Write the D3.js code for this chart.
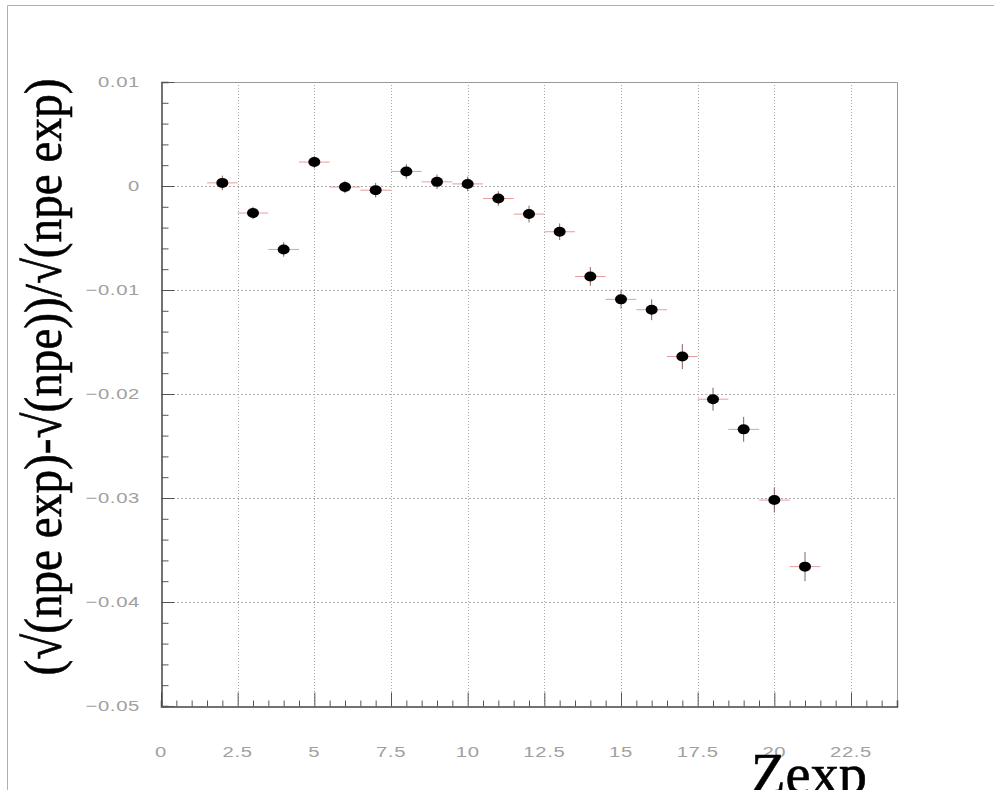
<!DOCTYPE html>
<html>
<head>
<meta charset="utf-8">
<script src="https://cdn.jsdelivr.net/npm/d3@7"></script>
<style>
  body { margin: 0; background: #fff; }
  svg { display: block; }
</style>
</head>
<body>
<div id="chart"></div>
<script>
const w = 994;
const h = 790;

// data
const zexp = [2, 3, 4, 5, 6, 7, 8, 9, 10, 11, 12, 13, 14, 15, 16, 17, 18, 19, 20, 21];
const ratio = [0.0003, -0.0026, -0.0061, 0.0023, -0.0001, -0.0004, 0.0014, 0.0004, 0.0002, -0.0012,
    -0.0027, -0.0044, -0.0087, -0.0109, -0.0119, -0.0164, -0.0205, -0.0234, -0.0302, -0.0366];
const ratioErr = [0.0007, 0.0006, 0.0007, 0.0006, 0.0006, 0.0007, 0.0007, 0.0007, 0.0007, 0.0007,
    0.0008, 0.0008, 0.0009, 0.0009, 0.001, 0.0012, 0.0011, 0.0012, 0.0012, 0.0014];
const xErr = 0.5;
const xTicks = [0, 2.5, 5, 7.5, 10, 12.5, 15, 17.5, 20, 22.5];
const yTicks = [0.01, 0, -0.01, -0.02, -0.03, -0.04, -0.05];

const frameL = 161, frameR = 897, frameT = 82, frameB = 706;

const svg = d3.select("#chart")
    .append("svg")
    .attr("width", w)
    .attr("height", h);

// outer pad border
svg.append("path")
    .attr("d", "M7.5,790 L7.5,5.5 L994,5.5")
    .attr("fill", "none")
    .attr("stroke", "#b0b0b0")
    .attr("stroke-width", 1);

const x = d3.scaleLinear().domain([0, 24]).range([frameL, frameR]);
const y = d3.scaleLinear().domain([-0.05, 0.01]).range([frameB, frameT]);

// grid
svg.append("g")
    .selectAll("line")
    .data(xTicks.filter(d => d > 0))
    .enter()
    .append("line")
    .attr("x1", d => Math.round(x(d)) + 0.5)
    .attr("x2", d => Math.round(x(d)) + 0.5)
    .attr("y1", frameT)
    .attr("y2", frameB)
    .attr("stroke", "#aaa")
    .attr("stroke-dasharray", "1,2");

svg.append("g")
    .selectAll("line")
    .data(yTicks.filter(d => d > -0.05 && d < 0.01))
    .enter()
    .append("line")
    .attr("x1", frameL)
    .attr("x2", frameR)
    .attr("y1", d => Math.round(y(d)) + 0.5)
    .attr("y2", d => Math.round(y(d)) + 0.5)
    .attr("stroke", "#aaa")
    .attr("stroke-dasharray", "2,2");

// frame: top and right light
svg.append("path")
    .attr("d", "M" + frameL + "," + (frameT + 0.5) + " L" + (frameR + 0.5) + "," + (frameT + 0.5) + " L" + (frameR + 0.5) + "," + frameB)
    .attr("fill", "none")
    .attr("stroke", "#999")
    .attr("stroke-width", 1);

// axes with inner ticks
const xAxis = d3.axisTop(x)
    .tickValues(d3.range(0, 24.01, 0.5))
    .tickSize(6)
    .tickFormat("");
const gx = svg.append("g")
    .attr("transform", "translate(0," + (frameB + 0.5) + ")")
    .call(xAxis);
gx.selectAll(".tick line")
    .attr("y2", d => (Math.abs(d / 2.5 - Math.round(d / 2.5)) < 1e-6) ? -14 : -6);

const yAxis = d3.axisRight(y)
    .tickValues(d3.range(-0.05, 0.01001, 0.002))
    .tickSize(7)
    .tickFormat("");
const gy = svg.append("g")
    .attr("transform", "translate(" + (frameL + 0.5) + ",0)")
    .call(yAxis);
gy.selectAll(".tick line")
    .attr("x2", d => (Math.abs(d / 0.01 - Math.round(d / 0.01)) < 1e-6) ? 13 : 7);

[gx, gy].forEach(g => {
    g.select(".domain").attr("stroke", "#444").attr("stroke-width", 1.5);
    g.selectAll(".tick line").attr("stroke", "#555");
});

// tick labels (glyphs stretched wide like the original)
svg.append("g")
    .selectAll("text")
    .data(xTicks)
    .enter()
    .append("text")
    .attr("transform", d => "translate(" + x(d) + ",757) scale(1.35,1)")
    .attr("text-anchor", "middle")
    .attr("font-family", "'Liberation Sans', Arial, sans-serif")
    .attr("font-size", 15)
    .attr("letter-spacing", 0.5)
    .attr("fill", "#a0a0a0")
    .text(d => d);

svg.append("g")
    .selectAll("text")
    .data(yTicks)
    .enter()
    .append("text")
    .attr("transform", d => "translate(140," + (y(d) + 5) + ") scale(1.35,1)")
    .attr("text-anchor", "end")
    .attr("font-family", "'Liberation Sans', Arial, sans-serif")
    .attr("font-size", 15)
    .attr("letter-spacing", 0.5)
    .attr("fill", "#a0a0a0")
    .text(d => d === 0 ? "0" : (d < 0 ? "\u2212" + String(-d) : String(d)));

// error bars
const pts = svg.append("g")
    .selectAll("g.pt")
    .data(zexp)
    .enter()
    .append("g")
    .attr("class", "pt");

pts.append("line")
    .attr("x1", d => x(d - xErr))
    .attr("x2", d => x(d + xErr))
    .attr("y1", (d, i) => y(ratio[i]))
    .attr("y2", (d, i) => y(ratio[i]))
    .attr("stroke", "#e07070")
    .attr("stroke-opacity", 0.7)
    .attr("stroke-width", 1);

pts.append("line")
    .attr("x1", d => x(d))
    .attr("x2", d => x(d))
    .attr("y1", (d, i) => y(ratio[i] - ratioErr[i]))
    .attr("y2", (d, i) => y(ratio[i] + ratioErr[i]))
    .attr("stroke", "#8a6060")
    .attr("stroke-width", 1);

pts.append("ellipse")
    .attr("cx", d => x(d))
    .attr("cy", (d, i) => y(ratio[i]))
    .attr("rx", 6)
    .attr("ry", 5)
    .attr("fill", "#000");

// axis titles
svg.append("text")
    .attr("transform", "translate(61,377) rotate(-90)")
    .attr("text-anchor", "middle")
    .attr("font-family", "'Liberation Serif', 'Times New Roman', serif")
    .attr("font-size", 52)
    .attr("textLength", 597)
    .attr("lengthAdjust", "spacingAndGlyphs")
    .attr("fill", "#000")
    .attr("stroke", "#000")
    .attr("stroke-width", 0.6)
    .text("(\u221A(npe exp)-\u221A(npe))/\u221A(npe exp)");

svg.append("text")
    .attr("x", 751)
    .attr("y", 793)
    .attr("font-family", "'Liberation Serif', 'Times New Roman', serif")
    .attr("font-size", 58)
    .attr("textLength", 116)
    .attr("lengthAdjust", "spacingAndGlyphs")
    .attr("fill", "#000")
    .attr("stroke", "#000")
    .attr("stroke-width", 0.6)
    .text("Zexp");
</script>
</body>
</html>
